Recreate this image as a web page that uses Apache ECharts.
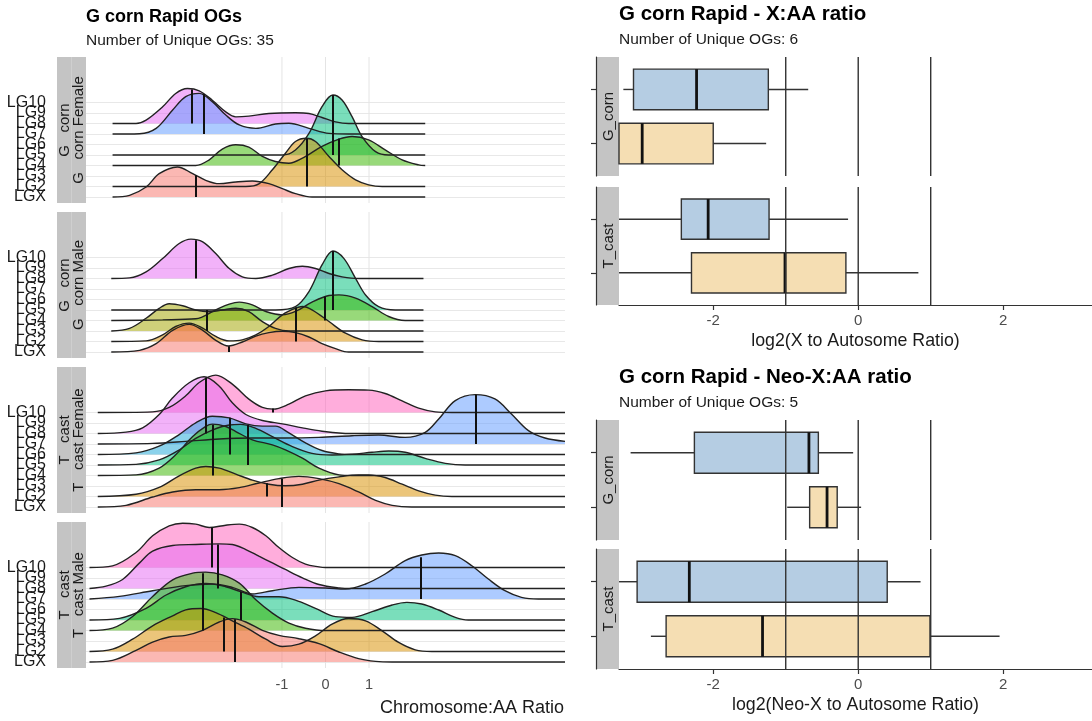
<!DOCTYPE html>
<html>
<head>
<meta charset="utf-8">
<script src="https://cdn.jsdelivr.net/npm/echarts@6/dist/echarts.min.js"></script>
<style>
  html, body { margin: 0; padding: 0; background: #fff; }
  #chart { width: 1092px; height: 721px; }
</style>
</head>
<body>
<div id="chart"></div>
<script>
const chromosomes = ['LGX', 'LG2', 'LG3', 'LG4', 'LG5', 'LG6', 'LG7', 'LG8', 'LG9', 'LG10']
const ridgeTicks = [-1, 0, 1]
const boxTicks = [-2, 0, 2]
const refLines = [-1, 0, 1]
const facets = ['G_corn', 'T_cast']

// ridge heights, [ratio, height in rows]
const gcornFemale = {
  LG8: [[-4.89, 0], [-4.35, 0], [-4.12, 0.32], [-3.74, 1.59], [-3.44, 2.86], [-3.17, 3.33], [-2.9, 3.11], [-2.6, 2.22], [-2.29, 1.11], [-2.06, 0.63], [-1.76, 0.7], [-1.3, 0.95], [-0.69, 1.02], [-0.38, 0.95], [-0.08, 0.57], [0.23, 0.16], [0.53, 0], [2.29, 0]],
  LG7: [[-4.89, 0], [-4.27, 0.03], [-3.89, 0.54], [-3.51, 2.29], [-3.21, 3.56], [-2.9, 3.87], [-2.6, 3.08], [-2.29, 1.81], [-1.98, 0.86], [-1.6, 0.54], [-1.15, 0.95], [-0.84, 1.02], [-0.38, 0.54], [0.08, 0.06], [0.53, 0], [2.29, 0]],
  LG5: [[-4.89, 0], [-0.99, 0], [-0.69, 0.48], [-0.38, 2.06], [-0.08, 4.6], [0.17, 5.71], [0.38, 5.24], [0.61, 3.65], [0.84, 1.75], [1.15, 0.32], [1.45, 0], [2.29, 0]],
  LG4: [[-4.89, 0], [-2.98, 0], [-2.67, 0.54], [-2.37, 1.56], [-2.06, 1.97], [-1.76, 1.75], [-1.45, 0.86], [-1.15, 0.38], [-0.84, 0.22], [-0.53, 0.7], [-0.08, 1.81], [0.31, 2.51], [0.61, 2.76], [0.99, 2.44], [1.37, 1.49], [1.76, 0.54], [2.14, 0.06], [2.29, 0]],
  LG2: [[-4.89, 0], [-1.83, 0], [-1.53, 0.25], [-1.22, 1.59], [-0.92, 3.17], [-0.69, 4.29], [-0.44, 4.6], [-0.23, 4.29], [0.08, 2.86], [0.38, 1.59], [0.69, 0.63], [0.99, 0.16], [1.3, 0], [2.29, 0]],
  LGX: [[-4.89, 0], [-4.5, 0.16], [-4.12, 0.95], [-3.82, 2.22], [-3.4, 2.86], [-3.05, 2.22], [-2.75, 1.59], [-2.44, 1.27], [-2.06, 1.43], [-1.68, 1.52], [-1.3, 1.27], [-0.99, 0.79], [-0.69, 0.32], [-0.31, 0], [2.29, 0]]
}
const gcornMale = {
  LG8: [[-4.92, 0], [-4.5, 0.06], [-4.12, 0.63], [-3.74, 1.9], [-3.36, 3.33], [-3.09, 3.75], [-2.82, 3.49], [-2.52, 2.38], [-2.21, 0.95], [-1.91, 0.16], [-1.6, 0], [-1.22, 0.32], [-0.84, 0.95], [-0.53, 1.17], [-0.23, 0.95], [0.08, 0.48], [0.38, 0.16], [0.76, 0], [2.25, 0]],
  LG5: [[-4.92, 0], [-1.15, 0], [-0.69, 0.32], [-0.38, 1.75], [-0.08, 4.29], [0.17, 5.62], [0.42, 4.92], [0.69, 3.02], [0.92, 1.43], [1.22, 0.32], [1.6, 0], [2.25, 0]],
  LG4: [[-4.92, 0], [-3.74, 0.06], [-2.98, 0.16], [-2.52, 1.02], [-2.21, 1.56], [-1.98, 1.75], [-1.68, 1.49], [-1.37, 0.86], [-0.99, 0.54], [-0.69, 0.86], [-0.31, 1.75], [0.08, 2.38], [0.31, 2.44], [0.69, 2.13], [1.07, 1.33], [1.45, 0.38], [1.83, 0], [2.25, 0]],
  LG3: [[-4.92, 0], [-4.5, 0.25], [-4.12, 1.21], [-3.82, 2.16], [-3.59, 2.6], [-3.28, 2.41], [-2.98, 2.0], [-2.67, 1.84], [-2.37, 2.0], [-2.06, 2.16], [-1.76, 1.84], [-1.45, 0.89], [-1.15, 0.25], [-0.84, 0], [2.25, 0]],
  LG2: [[-4.92, 0], [-4.12, 0.06], [-3.74, 0.63], [-3.44, 1.43], [-3.13, 1.75], [-2.82, 1.27], [-2.52, 0.48], [-2.21, 0.06], [-1.91, 0.16], [-1.6, 0.63], [-1.3, 1.43], [-0.99, 2.54], [-0.69, 3.17], [-0.53, 3.33], [-0.31, 3.02], [0.08, 1.9], [0.46, 0.79], [0.84, 0.16], [1.22, 0], [2.25, 0]],
  LGX: [[-4.92, 0], [-4.27, 0.16], [-3.89, 0.79], [-3.51, 2.06], [-3.13, 2.63], [-2.82, 2.06], [-2.52, 1.11], [-2.23, 0.57], [-1.91, 0.95], [-1.6, 1.52], [-1.3, 1.84], [-0.99, 1.97], [-0.69, 1.84], [-0.38, 1.43], [-0.08, 0.79], [0.23, 0.32], [0.53, 0], [2.25, 0]]
}
const tcastFemale = {
  LG10: [[-5.23, 0], [-3.97, 0.06], [-3.59, 0.48], [-3.21, 1.59], [-2.9, 2.86], [-2.52, 3.56], [-2.14, 2.7], [-1.76, 1.27], [-1.45, 0.48], [-1.2, 0.32], [-0.84, 0.79], [-0.46, 1.59], [0, 2.06], [0.53, 2.16], [0.99, 2.13], [1.37, 1.81], [1.76, 1.11], [2.14, 0.41], [2.52, 0.06], [2.9, 0], [5.5, 0]],
  LG8: [[-5.23, 0], [-4.58, 0.13], [-4.2, 0.54], [-3.82, 1.81], [-3.51, 3.4], [-3.13, 4.83], [-2.79, 5.4], [-2.44, 4.51], [-2.14, 2.92], [-1.83, 1.81], [-1.45, 1.24], [-0.99, 0.92], [-0.53, 0.54], [-0.08, 0.22], [0.38, 0.03], [0.76, 0], [5.5, 0]],
  LG7: [[-5.23, 0], [-3.97, 0.06], [-3.21, 0.25], [-2.44, 0.48], [-1.68, 0.57], [-0.92, 0.57], [-0.15, 0.63], [0.61, 0.79], [1.22, 0.86], [1.83, 0.63], [2.29, 1.11], [2.6, 2.38], [2.98, 4.13], [3.44, 4.7], [3.89, 4.29], [4.27, 2.86], [4.66, 1.27], [5.04, 0.57], [5.5, 0.25]],
  LG6: [[-5.23, 0], [-4.35, 0.16], [-3.82, 0.79], [-3.36, 1.9], [-2.98, 3.02], [-2.6, 3.65], [-2.21, 3.49], [-1.83, 2.92], [-1.45, 2.7], [-1.15, 2.7], [-0.84, 2.06], [-0.46, 1.11], [-0.08, 0.38], [0.31, 0.06], [0.61, 0], [5.5, 0]],
  LG5: [[-5.23, 0], [-4.35, 0.06], [-3.82, 0.48], [-3.36, 1.43], [-2.98, 2.54], [-2.6, 3.33], [-2.21, 3.81], [-1.95, 3.87], [-1.6, 3.49], [-1.22, 2.7], [-0.76, 1.75], [-0.31, 1.11], [0.15, 0.95], [0.61, 1.02], [1.07, 1.21], [1.45, 1.33], [1.83, 1.21], [2.29, 0.63], [2.75, 0.16], [3.21, 0], [5.5, 0]],
  LG4: [[-5.23, 0], [-4.35, 0.06], [-3.82, 0.7], [-3.44, 1.97], [-3.05, 3.71], [-2.75, 4.67], [-2.6, 4.89], [-2.29, 4.67], [-2.06, 4.19], [-1.68, 3.4], [-1.22, 2.92], [-0.92, 2.44], [-0.53, 1.65], [-0.15, 0.7], [0.31, 0.06], [0.61, 0], [5.5, 0]],
  LG2: [[-5.23, 0], [-4.35, 0.22], [-3.82, 0.86], [-3.36, 1.97], [-2.98, 2.7], [-2.75, 2.86], [-2.44, 2.7], [-2.06, 2.13], [-1.68, 1.56], [-1.3, 1.17], [-0.92, 1.02], [-0.53, 1.17], [-0.15, 1.56], [0.31, 1.87], [0.76, 2.06], [0.99, 2.06], [1.37, 1.81], [1.76, 1.17], [2.14, 0.54], [2.52, 0.13], [2.9, 0], [5.5, 0]],
  LGX: [[-5.23, 0], [-4.58, 0.16], [-3.97, 0.95], [-3.51, 1.43], [-2.98, 1.65], [-2.44, 1.65], [-1.98, 1.84], [-1.53, 2.29], [-1.07, 2.7], [-0.61, 2.92], [-0.15, 2.7], [0.31, 2.22], [0.76, 1.43], [1.15, 0.63], [1.53, 0.16], [1.98, 0], [5.5, 0]]
}
const tcastMale = {
  LG10: [[-5.42, 0], [-4.89, 0.16], [-4.35, 1.43], [-3.97, 3.02], [-3.59, 3.97], [-3.28, 4.22], [-2.98, 4.13], [-2.67, 3.81], [-2.29, 4.03], [-1.98, 4.13], [-1.68, 3.81], [-1.37, 3.02], [-1.07, 1.9], [-0.76, 0.95], [-0.46, 0.32], [-0.15, 0.06], [0, 0], [5.5, 0]],
  LG8: [[-5.42, 0], [-5.04, 0.22], [-4.66, 0.86], [-4.27, 2.44], [-3.97, 3.56], [-3.51, 4.1], [-2.98, 4.19], [-2.44, 4.25], [-2.14, 4.19], [-1.83, 3.71], [-1.53, 3.08], [-1.22, 2.44], [-0.92, 1.81], [-0.53, 1.02], [-0.15, 0.38], [0.31, 0.06], [0.61, 0], [5.5, 0]],
  LG7: [[-5.42, 0], [-4.73, 0.25], [-3.97, 0.79], [-3.21, 1.27], [-2.6, 1.43], [-2.14, 1.11], [-1.68, 0.48], [-1.22, 0.79], [-0.61, 1.11], [0, 1.05], [0.46, 0.95], [0.92, 1.43], [1.37, 2.38], [1.83, 3.65], [2.21, 4.19], [2.6, 4.38], [2.98, 4.13], [3.36, 3.17], [3.74, 1.9], [4.12, 0.79], [4.5, 0.16], [4.89, 0], [5.5, 0]],
  LG5: [[-5.42, 0], [-4.73, 0.16], [-4.12, 1.11], [-3.66, 2.38], [-3.21, 3.17], [-2.75, 3.49], [-2.29, 3.17], [-1.95, 2.7], [-1.53, 2.22], [-1.07, 2.22], [-0.69, 1.9], [-0.23, 1.11], [0.23, 0.32], [0.61, 0.25], [1.07, 0.79], [1.53, 1.43], [1.87, 1.68], [2.21, 1.52], [2.6, 0.95], [2.98, 0.25], [3.28, 0], [5.5, 0]],
  LG4: [[-5.42, 0], [-4.89, 0.22], [-4.43, 1.33], [-3.97, 3.24], [-3.51, 4.83], [-3.05, 5.46], [-2.75, 5.56], [-2.37, 5.3], [-1.98, 4.51], [-1.6, 2.92], [-1.22, 1.65], [-0.84, 0.7], [-0.46, 0.22], [0, 0], [5.5, 0]],
  LG2: [[-5.42, 0], [-4.89, 0.22], [-4.43, 1.17], [-3.97, 2.44], [-3.51, 3.4], [-3.21, 3.97], [-2.86, 4.1], [-2.52, 3.71], [-2.14, 2.92], [-1.76, 2.13], [-1.37, 1.17], [-0.99, 0.48], [-0.61, 0.7], [-0.23, 1.49], [0.15, 2.6], [0.53, 3.14], [0.92, 2.92], [1.3, 1.97], [1.68, 0.86], [2.06, 0.16], [2.44, 0], [5.5, 0]],
  LGX: [[-5.42, 0], [-4.89, 0.16], [-4.35, 1.11], [-3.97, 1.9], [-3.59, 2.38], [-3.21, 2.54], [-2.82, 3.02], [-2.44, 3.81], [-2.14, 4.13], [-1.83, 3.81], [-1.45, 3.02], [-1.07, 2.54], [-0.61, 2.22], [-0.15, 1.75], [0.31, 0.95], [0.76, 0.32], [1.15, 0.06], [1.53, 0], [5.5, 0]]
}

// median lines, [ratio, height in rows]
const gcornFemaleMedian = { LG8: [-3.08, 3.24], LG7: [-2.79, 3.78], LG5: [0.17, 5.71], LG4: [0.31, 2.57], LG2: [-0.44, 4.54], LGX: [-2.99, 2.06] }
const gcornMaleMedian = { LG8: [-2.98, 3.65], LG5: [0.17, 5.62], LG4: [-0.02, 2.29], LG3: [-2.73, 2.0], LG2: [-0.69, 3.24], LGX: [-2.23, 0.54] }
const tcastFemaleMedian = { LG10: [-1.2, 0.38], LG8: [-2.75, 5.3], LG7: [3.44, 4.7], LG6: [-2.21, 3.49], LG5: [-1.79, 3.81], LG4: [-2.6, 4.83], LG2: [-1.34, 1.27], LGX: [-1.01, 2.7] }
const tcastMaleMedian = { LG10: [-2.62, 3.81], LG8: [-2.47, 4.19], LG7: [2.19, 3.97], LG5: [-1.95, 2.7], LG4: [-2.81, 5.46], LG2: [-2.34, 3.24], LGX: [-2.08, 4.06] }

// boxes: [low, q1, median, q3, high]
const xaaGcornTop = [-3.24, -3.1, -2.23, -1.24, -0.69]
const xaaGcornBottom = [-3.3, -3.3, -2.98, -2.0, -1.27]
const xaaTcastTop = [-3.3, -2.44, -2.07, -1.23, -0.14]
const xaaTcastBottom = [-3.3, -2.3, -1.01, -0.17, 0.83]
const neoGcornTop = [-3.14, -2.26, -0.68, -0.55, -0.07]
const neoGcornBottom = [-0.98, -0.67, -0.43, -0.29, 0.04]
const neoTcastTop = [-3.3, -3.05, -2.33, 0.4, 0.86]
const neoTcastBottom = [-2.86, -2.65, -1.32, 0.99, 1.95]

const ridgeColors = {
  LGX: '#F8766D', LG2: '#D89000', LG3: '#A3A500', LG4: '#39B600', LG5: '#00BF7D',
  LG6: '#20A8D8', LG7: '#619CFF', LG8: '#E76BF3', LG9: '#C77CFF', LG10: '#FF62BC'
}
const font = '"Liberation Sans", Arial, Helvetica, sans-serif'

const panelTops = [57, 212, 367, 522]
const panelH = 146
const rowH = 10.5
const ridgeMin = -6 / rowH
const ridgeMax = ridgeMin + panelH / rowH
const ridgeData = [gcornFemale, gcornMale, tcastFemale, tcastMale]
const ridgeMedians = [gcornFemaleMedian, gcornMaleMedian, tcastFemaleMedian, tcastMaleMedian]
const stripOuter = ['G   corn', 'G   corn', 'T   cast', 'T   cast']
const stripInner = ['G   corn Female', 'G   corn Male', 'T   cast Female', 'T   cast Male']

const grid = []
const xAxis = []
const yAxis = []
const series = []
const graphic = []

// left: ridgeline facets
panelTops.forEach((top, p) => {
  // label grid (rows LGX..LG10)
  grid.push({ left: 86, width: 479, top: top + panelH - 6 - 9 * rowH, height: 9 * rowH })
  xAxis.push({ gridIndex: p, type: 'value', show: false, min: 0, max: 1 })
  yAxis.push({
    gridIndex: p, type: 'category', data: chromosomes, boundaryGap: false,
    axisLine: { show: false }, axisTick: { show: false },
    axisLabel: { interval: 0, margin: 40, fontSize: 16, color: '#1a1a1a', fontFamily: font },
    splitLine: { show: true, lineStyle: { color: '#e8e8e8', width: 1 } }
  })
})
panelTops.forEach((top, p) => {
  const gi = 4 + p
  const last = p === 3
  grid.push({ left: 86, width: 479, top: top, height: panelH })
  xAxis.push({
    gridIndex: gi, type: 'value', min: -5.5, max: 5.5, show: last,
    axisLine: { show: false, onZero: false }, axisTick: { show: false }, splitLine: { show: false },
    axisLabel: { show: last, customValues: ridgeTicks, fontSize: 14.5, color: '#4d4d4d', margin: 9, fontFamily: font }
  })
  yAxis.push({ gridIndex: gi, type: 'value', min: ridgeMin, max: ridgeMax, show: false, axisLine: { onZero: false } })

  series.push({
    type: 'custom', xAxisIndex: gi, yAxisIndex: gi, z: 1, silent: true,
    data: ridgeTicks.map(v => [v]),
    renderItem: (params, api) => {
      const a = api.coord([api.value(0), ridgeMin])
      const b = api.coord([api.value(0), ridgeMax])
      return { type: 'line', shape: { x1: a[0], y1: a[1], x2: b[0], y2: b[1] }, style: { stroke: '#e4e4e4', lineWidth: 1 } }
    }
  })

  const dens = ridgeData[p]
  const meds = ridgeMedians[p]
  chromosomes.slice().reverse().forEach(name => {
    if (!dens[name]) return
    const base = chromosomes.indexOf(name)
    const m = meds[name]
    series.push({
      type: 'line', name: name, xAxisIndex: gi, yAxisIndex: gi, z: 2,
      data: dens[name].map(d => [d[0], base + d[1]]),
      smooth: 0.35, showSymbol: false, symbol: 'none', silent: true,
      lineStyle: { color: '#222', width: 1.4 },
      areaStyle: { color: ridgeColors[name], opacity: 0.52, origin: base },
      markLine: {
        silent: true, symbol: ['none', 'none'], label: { show: false },
        lineStyle: { color: '#111', width: 2, type: 'solid' },
        data: [[{ coord: [m[0], base] }, { coord: [m[0], base + m[1]] }]]
      }
    })
  })

  graphic.push({ type: 'rect', shape: { x: 57, y: top, width: 29, height: panelH }, style: { fill: '#c4c4c4' } })
  graphic.push({ type: 'rect', shape: { x: 71, y: top, width: 1, height: panelH }, style: { fill: '#cfcfcf' } })
  graphic.push({
    type: 'text', x: 64.5, y: top + panelH / 2, rotation: Math.PI / 2,
    style: { text: stripOuter[p], font: '15px ' + font, fill: '#1a1a1a', align: 'center', verticalAlign: 'middle', textAlign: 'center', textVerticalAlign: 'middle' }
  })
  graphic.push({
    type: 'text', x: 79, y: top + panelH / 2, rotation: Math.PI / 2,
    style: { text: stripInner[p], font: '15px ' + font, fill: '#1a1a1a', align: 'center', verticalAlign: 'middle', textAlign: 'center', textVerticalAlign: 'middle' }
  })
})

// right: box plots
const boxFacets = [
  { top: 57, height: 119, bottom: false, boxes: [[2].concat(xaaGcornTop), [1].concat(xaaGcornBottom)], label: facets[0] },
  { top: 187, height: 118, bottom: true, boxes: [[2].concat(xaaTcastTop), [1].concat(xaaTcastBottom)], label: facets[1], name: 'log2(X to Autosome Ratio)' },
  { top: 420, height: 120, bottom: false, boxes: [[2].concat(neoGcornTop), [1].concat(neoGcornBottom)], label: facets[0] },
  { top: 549, height: 120, bottom: true, boxes: [[2].concat(neoTcastTop), [1].concat(neoTcastBottom)], label: facets[1], name: 'log2(Neo-X to Autosome Ratio)' }
]
const boxFill = { 2: '#B5CDE3', 1: '#F5DEB3' }

boxFacets.forEach((f, i) => {
  const gi = 8 + i
  grid.push({ left: 619, width: 473, top: f.top, height: f.height })
  xAxis.push({
    gridIndex: gi, type: 'value', min: -3.3, max: 3.225,
    axisLine: { show: f.bottom, onZero: false, lineStyle: { color: '#333', width: 1.2 } },
    axisTick: { show: f.bottom, customValues: boxTicks, length: 5, lineStyle: { color: '#333', width: 1.2 } },
    axisLabel: { show: f.bottom, customValues: boxTicks, fontSize: 15, color: '#4d4d4d', margin: 8, fontFamily: font },
    splitLine: { show: false },
    name: f.name || '', nameLocation: 'middle', nameGap: 27,
    nameTextStyle: { fontSize: 17.8, color: '#1a1a1a', fontFamily: font }
  })
  yAxis.push({
    gridIndex: gi, type: 'value', min: 0.4, max: 2.6, offset: 23,
    axisLine: { show: true, onZero: false, lineStyle: { color: '#333', width: 1.2 } },
    axisTick: { show: true, customValues: [1, 2], length: 5, lineStyle: { color: '#333', width: 1.2 } },
    axisLabel: { show: false }, splitLine: { show: false }
  })
  series.push({
    type: 'custom', xAxisIndex: gi, yAxisIndex: gi, z: 2, silent: true,
    encode: { x: [1, 2, 3, 4, 5], y: 0 },
    data: f.boxes,
    renderItem: (params, api) => {
      const y = api.value(0)
      const half = 0.375
      const lo = api.coord([api.value(1), y])
      const q1 = api.coord([api.value(2), y + half])
      const md = api.coord([api.value(3), y + half])
      const q3 = api.coord([api.value(4), y - half])
      const hi = api.coord([api.value(5), y])
      const edge = { stroke: '#333', lineWidth: 1.4 }
      return {
        type: 'group', children: [
          { type: 'line', shape: { x1: lo[0], y1: lo[1], x2: q1[0], y2: lo[1] }, style: edge },
          { type: 'line', shape: { x1: q3[0], y1: hi[1], x2: hi[0], y2: hi[1] }, style: edge },
          { type: 'rect', shape: { x: q1[0], y: q1[1], width: q3[0] - q1[0], height: q3[1] - q1[1] }, style: { fill: boxFill[y], stroke: '#333', lineWidth: 1.4 } },
          { type: 'line', shape: { x1: md[0], y1: q1[1], x2: md[0], y2: q3[1] }, style: { stroke: '#111', lineWidth: 2.8 } }
        ]
      }
    }
  })
  series.push({
    type: 'custom', xAxisIndex: gi, yAxisIndex: gi, z: 3, silent: true,
    data: refLines.map(v => [v]),
    renderItem: (params, api) => {
      const a = api.coord([api.value(0), 0.4])
      const b = api.coord([api.value(0), 2.6])
      return { type: 'line', shape: { x1: a[0], y1: a[1], x2: b[0], y2: b[1] }, style: { stroke: '#333', lineWidth: 1.4 } }
    }
  })
  graphic.push({ type: 'rect', shape: { x: 597, y: f.top, width: 22, height: f.height }, style: { fill: '#c4c4c4' } })
  graphic.push({
    type: 'text', x: 608.5, y: f.top + f.height / 2, rotation: Math.PI / 2,
    style: { text: f.label, font: '15px ' + font, fill: '#1a1a1a', align: 'center', verticalAlign: 'middle', textAlign: 'center', textVerticalAlign: 'middle' }
  })
})

function label(text, x, y, size, bold, align) {
  return {
    type: 'text', x: x, y: y,
    style: {
      text: text, font: (bold ? 'bold ' : '') + size + 'px ' + font, fill: bold ? '#000' : '#1a1a1a',
      align: align || 'left', verticalAlign: 'middle', textAlign: align || 'left', textVerticalAlign: 'middle'
    }
  }
}
graphic.push(label('G corn Rapid OGs', 86, 17, 18, true))
graphic.push(label('Number of Unique OGs: 35', 86, 41, 15.5, false))
graphic.push(label('Chromosome:AA Ratio', 564, 708, 18, false, 'right'))
graphic.push(label('G corn Rapid - X:AA ratio', 619, 14, 20.5, true))
graphic.push(label('Number of Unique OGs: 6', 619, 40, 15.5, false))
graphic.push(label('G corn Rapid - Neo-X:AA ratio', 619, 377, 20.5, true))
graphic.push(label('Number of Unique OGs: 5', 619, 403, 15.5, false))

const chart = echarts.init(document.getElementById('chart'))
chart.setOption({
  animation: false,
  backgroundColor: '#fff',
  textStyle: { fontFamily: font },
  grid: grid,
  xAxis: xAxis,
  yAxis: yAxis,
  series: series,
  graphic: graphic
})
</script>
</body>
</html>
